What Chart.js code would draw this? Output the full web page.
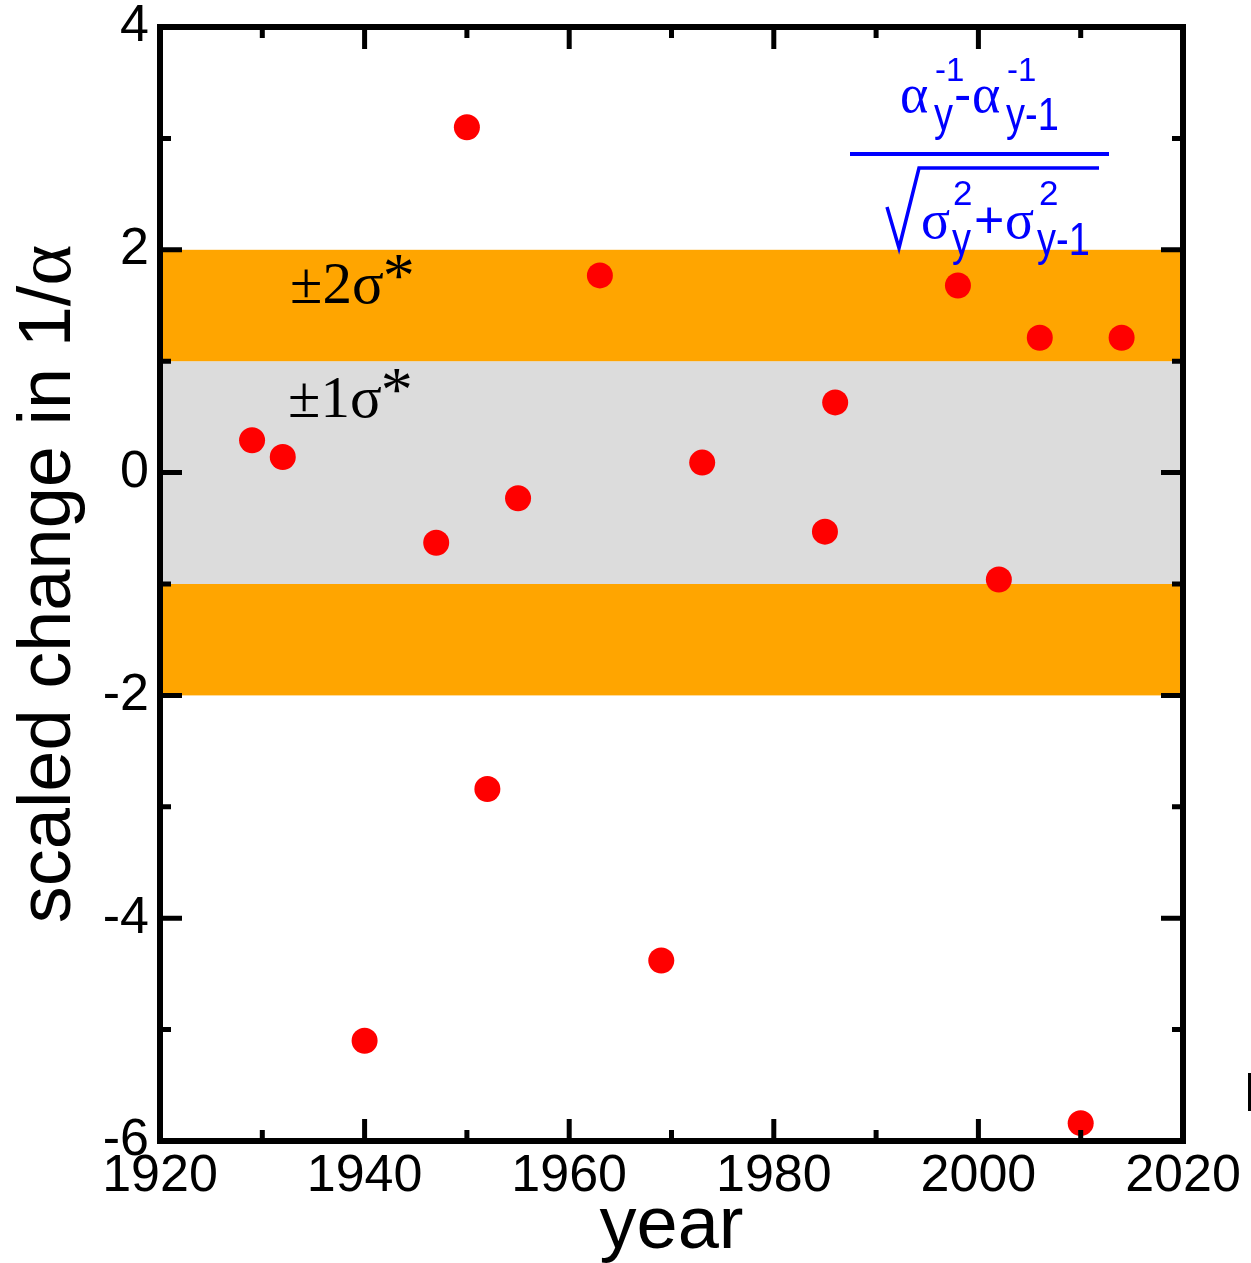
<!DOCTYPE html>
<html><head><meta charset="utf-8">
<script src="https://cdn.jsdelivr.net/npm/chart.js@4.4.0/dist/chart.umd.min.js"></script>
<style>html,body{margin:0;padding:0;background:#fff;overflow:hidden}#wrap{width:1251px;height:1263px;position:relative}</style>
</head><body><div id="wrap"><canvas id="c" width="1251" height="1263"></canvas></div>
<script>
const years = [1929,1932,1940,1947,1950,1952,1955,1963,1969,1973,1985,1986,1998,2002,2006,2010,2014];
const scaled = [0.29,0.14,-5.10,-0.63,3.10,-2.84,-0.23,1.77,-4.38,0.09,-0.53,0.63,1.68,-0.96,1.21,-5.84,1.21];
const xMajorTicks = [1920,1940,1960,1980,2000,2020];
const xMinorTicks = [1930,1950,1970,1990,2010];
const yMajorTicks = [-6,-4,-2,0,2,4];
const yMinorTicks = [-5,-3,-1,1,3];
const bandLow = [-2,-1,1];
const bandHigh = [-1,1,2];
const bandColor = ['#FFA500','#DCDCDC','#FFA500'];
const xTitle = 'year';
const yTitleMain = 'scaled change in 1/';
const yTitleGreek = 'α';
const bandLabels = ['±2σ','±1σ'];
const bandStar = '*';

const SANS = '"Liberation Sans", Arial, Helvetica, sans-serif';
const SERIF = '"Liberation Serif", "Times New Roman", serif';

const decor = {
  id: 'decor',
  beforeDatasetsDraw(chart) {
    const {ctx, chartArea: a, scales: {y}} = chart;
    ctx.save();
    for (let i = 0; i < bandLow.length; i++) {
      const p1 = y.getPixelForValue(bandHigh[i]);
      const p2 = y.getPixelForValue(bandLow[i]);
      ctx.fillStyle = bandColor[i];
      ctx.fillRect(a.left, p1, a.right - a.left, p2 - p1);
    }
    ctx.fillStyle = '#000';
    ctx.textAlign = 'left';
    ctx.textBaseline = 'alphabetic';
    const pos = [[290, 303], [288, 417]];
    bandLabels.forEach((t, i) => {
      ctx.font = '59px ' + SERIF;
      ctx.fillText(t, pos[i][0], pos[i][1]);
      const w = ctx.measureText(t).width;
      ctx.font = '64px ' + SERIF;
      ctx.fillText(bandStar, pos[i][0] + w - 1, pos[i][1] - 6);
    });
    ctx.restore();
  },
  afterDatasetsDraw(chart) {
    const {ctx, chartArea: a, scales: {x, y}} = chart;
    ctx.save();
    ctx.strokeStyle = '#000';
    ctx.lineWidth = 5;
    ctx.lineCap = 'butt';
    const tickX = (vals, len) => vals.forEach(v => {
      const px = x.getPixelForValue(v);
      ctx.beginPath();
      ctx.moveTo(px, a.bottom); ctx.lineTo(px, a.bottom - len);
      ctx.moveTo(px, a.top); ctx.lineTo(px, a.top + len);
      ctx.stroke();
    });
    const tickY = (vals, len) => vals.forEach(v => {
      const py = y.getPixelForValue(v);
      ctx.beginPath();
      ctx.moveTo(a.left, py); ctx.lineTo(a.left + len, py);
      ctx.moveTo(a.right, py); ctx.lineTo(a.right - len, py);
      ctx.stroke();
    });
    tickX(xMajorTicks, 22); tickX(xMinorTicks, 11);
    tickY(yMajorTicks, 22); tickY(yMinorTicks, 11);
    ctx.lineWidth = 6;
    ctx.strokeRect(a.left, a.top, a.right - a.left, a.bottom - a.top);

    // axis titles
    ctx.fillStyle = '#000';
    ctx.font = '74px ' + SANS;
    ctx.textAlign = 'center';
    ctx.textBaseline = 'alphabetic';
    ctx.fillText(xTitle, (a.left + a.right) / 2, 1248);

    ctx.save();
    ctx.translate(70, (a.top + a.bottom) / 2);
    ctx.rotate(-Math.PI / 2);
    ctx.font = '74px ' + SANS;
    const w1 = ctx.measureText(yTitleMain).width;
    ctx.font = '78px ' + SERIF;
    const w2 = ctx.measureText(yTitleGreek).width;
    const start = -(w1 + w2) / 2;
    ctx.textAlign = 'left';
    ctx.font = '74px ' + SANS;
    ctx.fillText(yTitleMain, start, 0);
    ctx.font = '78px ' + SERIF;
    ctx.fillText(yTitleGreek, start + w1, 0);
    ctx.restore();

    // formula
    ctx.fillStyle = '#0000FF';
    ctx.strokeStyle = '#0000FF';
    ctx.textAlign = 'left';
    const pieces = [
      ['α', 54, SERIF, 900, 112, 1.0], ['-1', 33, SANS, 935, 81, 1.0], ['y', 38, SANS, 934, 130, 1.2],
      ['-', 52, SANS, 954, 112, 1.0], ['α', 54, SERIF, 972, 112, 1.0], ['-1', 33, SANS, 1007, 81, 1.0],
      ['y-1', 38, SANS, 1006, 130, 1.2],
      ['σ', 54, SERIF, 921, 238, 1.0], ['2', 35, SANS, 953, 205, 1.0], ['y', 38, SANS, 952, 255, 1.2],
      ['+', 52, SANS, 974, 238, 1.0], ['σ', 54, SERIF, 1005, 238, 1.0], ['2', 35, SANS, 1039, 205, 1.0],
      ['y-1', 38, SANS, 1037, 255, 1.2]
    ];
    pieces.forEach(([t, s, fam, px, py, sy]) => {
      ctx.save();
      ctx.translate(px, py);
      ctx.scale(1, sy);
      ctx.font = s + 'px ' + fam;
      ctx.fillText(t, 0, 0);
      ctx.restore();
    });
    ctx.lineWidth = 4;
    ctx.beginPath(); ctx.moveTo(850, 154); ctx.lineTo(1109, 154); ctx.stroke();
    ctx.lineWidth = 3.5;
    ctx.lineJoin = 'miter';
    ctx.beginPath();
    ctx.moveTo(887, 207); ctx.lineTo(899, 248); ctx.lineTo(919, 168); ctx.lineTo(1099, 168);
    ctx.stroke();

    // clipped mark at right edge
    ctx.fillStyle = '#000';
    ctx.fillRect(1248, 1073, 3, 38);
    ctx.restore();
  }
};

new Chart(document.getElementById('c'), {
  type: 'scatter',
  data: {
    datasets: [{
      data: years.map((yr, i) => ({x: yr, y: scaled[i]})),
      backgroundColor: '#FF0000',
      borderWidth: 0,
      pointRadius: 13,
      pointHoverRadius: 13
    }]
  },
  options: {
    responsive: false,
    devicePixelRatio: 1,
    animation: false,
    events: [],
    layout: {padding: {left: 0, top: 27, right: 68, bottom: 0}},
    plugins: {legend: {display: false}, tooltip: {enabled: false}},
    scales: {
      x: {
        type: 'linear', min: 1920, max: 2020,
        afterBuildTicks: s => { s.ticks = xMajorTicks.map(v => ({value: v})); },
        afterFit: s => { s.height = 122; s.paddingLeft = 0; s.paddingRight = 0; s.paddingTop = 0; s.paddingBottom = 0; },
        grid: {display: false, drawTicks: false},
        border: {display: false},
        ticks: {color: '#000', font: {family: SANS, size: 52, lineHeight: 1.2}, padding: 4, maxRotation: 0, autoSkip: false,
                callback: v => String(v)}
      },
      y: {
        type: 'linear', min: -6, max: 4,
        afterBuildTicks: s => { s.ticks = yMajorTicks.map(v => ({value: v})); },
        afterFit: s => { s.width = 160; s.paddingLeft = 0; s.paddingRight = 0; s.paddingTop = 0; s.paddingBottom = 0; },
        grid: {display: false, drawTicks: false},
        border: {display: false},
        ticks: {color: '#000', font: {family: SANS, size: 52, lineHeight: 1.0}, padding: 11, autoSkip: false,
                callback: v => String(v)}
      }
    }
  },
  plugins: [decor]
});
</script>
</body></html>
